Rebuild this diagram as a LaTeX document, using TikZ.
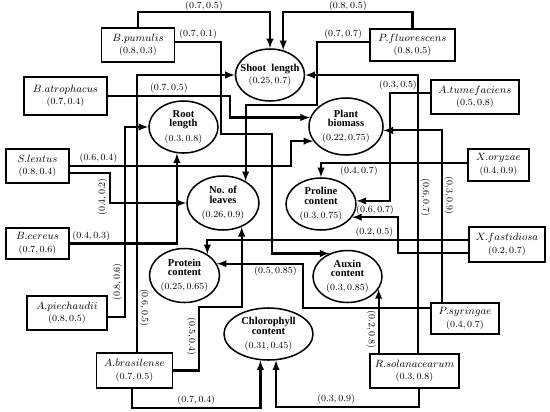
\documentclass[tikz,border=0pt]{standalone}
\usepackage{fontspec}
\newfontfamily\traitfont{Liberation Serif}
\usetikzlibrary{shapes.geometric}
\tikzset{
  bact/.style={draw, line width=1.3pt, align=center, inner sep=1pt, font=\small},
  trait/.style={ellipse, draw, line width=1.3pt, align=center, inner sep=0pt, font=\small\traitfont\bfseries},
  link/.style={-latex, line width=1.8pt},
  lab/.style={font=\footnotesize, inner sep=1.5pt},
}
\newcommand{\val}[1]{{\mdseries\footnotesize$#1$}}
\begin{document}
\begin{tikzpicture}[x=0.03cm, y=-0.03cm]
        \useasboundingbox (0,0) rectangle (550,411);
        % Rasgos de la planta
        \node[trait, minimum width=2.07cm, minimum height=1.56cm] (shoot) at (270,75) {\makebox[0pt]{Shoot~~length}\\ \val{(0.25, 0.7)}};
        \node[trait, minimum width=2.07cm, minimum height=1.56cm] (root) at (183.5,127) {Root\\[-3pt]length\\[1pt]\val{(0.3, 0.8)}};
        \node[trait, minimum width=2.22cm, minimum height=1.71cm] (bio) at (346,126.5) {Plant\\[-3pt]biomass\\[1pt]\val{(0.22, 0.75)}};
        \node[trait, minimum width=2.16cm, minimum height=1.62cm] (leaves) at (223,203) {No. of\\[-3pt]leaves\\[1pt]\val{(0.26, 0.9)}};
        \node[trait, minimum width=2.1cm, minimum height=1.56cm] (proline) at (321,204) {Proline\\[-3pt]content\\[1pt]\val{(0.3, 0.75)}};
        \node[trait, minimum width=2.1cm, minimum height=1.62cm] (protein) at (184.5,275.5) {Protein\\[-3pt]content\\[1pt]\val{(0.25, 0.65)}};
        \node[trait, minimum width=2.07cm, minimum height=1.56cm] (auxin) at (347.5,276.5) {Auxin\\[-3pt]content\\[1pt]\val{(0.3, 0.85)}};
        \node[trait, minimum width=2.67cm, minimum height=1.56cm] (chloro) at (268.5,334) {Chlorophyll\\[-3pt]content\\[1pt]\val{(0.31, 0.45)}};

        % Bacterias
        \node[bact, minimum width=2.19cm, minimum height=1.02cm] (pum) at (138,45) {$B.pumulis$\\ \val{(0.8, 0.3)}};
        \node[bact, minimum width=2.55cm, minimum height=0.96cm] (flu) at (412.5,45) {$P.fluorescens$\\ \val{(0.8, 0.5)}};
        \node[bact, minimum width=2.49cm, minimum height=1.14cm] (atr) at (65.5,96) {$B.atrophacus$\\ \val{(0.7, 0.4)}};
        \node[bact, minimum width=2.64cm, minimum height=1.02cm] (tum) at (475,97) {$A.tumefaciens$\\ \val{(0.5, 0.8)}};
        \node[bact, minimum width=1.89cm, minimum height=1.02cm] (len) at (37.5,166) {$S.lentus$\\ \val{(0.8, 0.4)}};
        \node[bact, minimum width=1.83cm, minimum height=0.96cm] (ory) at (498.5,165) {$X.oryzae$\\ \val{(0.4, 0.9)}};
        \node[bact, minimum width=1.89cm, minimum height=0.93cm] (cer) at (37.5,243.5) {$B.cereus$\\ \val{(0.7, 0.6)}};
        \node[bact, minimum width=2.28cm, minimum height=1.05cm] (fas) at (507,244.5) {$X.fastidiosa$\\ \val{(0.2, 0.7)}};
        \node[bact, minimum width=2.4cm, minimum height=1.02cm] (pie) at (67,313) {$A.piechaudii$\\ \val{(0.8, 0.5)}};
        \node[bact, minimum width=2.04cm, minimum height=0.93cm] (syr) at (465,318.5) {$P.syringae$\\ \val{(0.4, 0.7)}};
        \node[bact, minimum width=2.28cm, minimum height=1.05cm] (bra) at (134.5,370.5) {$A.brasilense$\\ \val{(0.7, 0.5)}};
        \node[bact, minimum width=2.67cm, minimum height=1.02cm] (sol) at (414.5,371) {$R.solanacearum$\\ \val{(0.3, 0.8)}};

        % Conexiones
        \draw[link] (pum.north) -- ++(0,-15) -| node[lab, pos=.25, above, inner sep=.5pt] {$(0.7, 0.5)$} (shoot.north);
        \draw[link] (flu.north) -- ++(0,-16) -| node[lab, pos=.25, above, inner sep=.5pt] {$(0.8, 0.5)$} (shoot.62);
        \draw[link] ([yshift=2.5pt]pum.east) -| node[lab, pos=.25, above] {$(0.7, 0.1)$} (221,134) -| (272,200) |- (auxin.128);
        \draw[link] (atr.east) -| node[lab, pos=.25, above] {$(0.7, 0.5)$} (230,110) |- (bio.166);
        \draw[link] ([xshift=2pt]bra.north) |- node[lab, pos=.08, rotate=-90, anchor=south] {$(0.6, 0.5)$} (shoot.west);
        \draw[link] ([yshift=-3.5pt]pie.east) -| node[lab, pos=.65, rotate=90, anchor=south] {$(0.8, 0.6)$} (125,200) |- (root.west);
        \draw[link] ([xshift=3pt]sol.north) |- node[lab, pos=.28, rotate=-90, anchor=south] {$(0.6, 0.7)$} (shoot.east);
        \draw[link] ([xshift=-20pt]syr.north) |- node[lab, pos=.31, rotate=-90, anchor=south] {$(0.3, 0.9)$} (bio.-6);
        \draw[link] ([yshift=9pt]syr.west) -| (303,280) |- node[lab, pos=.66, below] {$(0.5, 0.85)$} (protein.20);
        \draw[link] ([yshift=2.5pt]flu.west) -| node[lab, pos=.25, above] {$(0.7, 0.7)$} (317,105) -| (leaves.44);
        \draw[link] ([yshift=3.4pt]tum.west) -| node[lab, pos=.4, above] {$(0.3, 0.5)$} (390,150) |- (proline.5);
        \draw[link] (len.east) -| node[lab, pos=.065, above] {$(0.6, 0.4)$} (291,150) |- (bio.204);
        \draw[link] ([yshift=1.5pt]ory.west) -| node[lab, pos=.37, below] {$(0.4, 0.7)$} (proline.north);
        \draw[link] ([yshift=-6pt]len.east) -| node[lab, pos=.9, rotate=90, anchor=south] {$(0.4, 0.2)$} (110,203) -- (leaves.west);
        \draw[link] (cer.east) -| node[lab, pos=.1, above] {$(0.4, 0.3)$} (root.256);
        \draw[link] ([yshift=3.8pt]fas.west) -| node[lab, pos=.18, above] {$(0.2, 0.5)$} (protein.43);
        \draw[link] ([yshift=-7.2pt]fas.west) -| (398,230) |- node[lab, pos=.75, above] {$(0.6, 0.7)$} (proline.-23);
        \draw[link] (bra.east) -| node[lab, pos=.77, rotate=-90, anchor=north] {$(0.5, 0.4)$} (199,307) -| (leaves.-52);
        \draw[link] ([xshift=-2pt]bra.south) -- ++(0,19) -| node[lab, pos=.25, above] {$(0.7, 0.4)$} (chloro.-107);
        \draw[link] ([xshift=3.8pt]sol.south) -- ++(0,18) -| node[lab, pos=.29, above] {$(0.3, 0.9)$} (chloro.-74);
        \draw[link] (auxin.-22 |- sol.north) -- node[lab, pos=.37, rotate=-90, anchor=north] {$(0.2, 0.8)$} (auxin.-22);
    \end{tikzpicture}
\end{document}
